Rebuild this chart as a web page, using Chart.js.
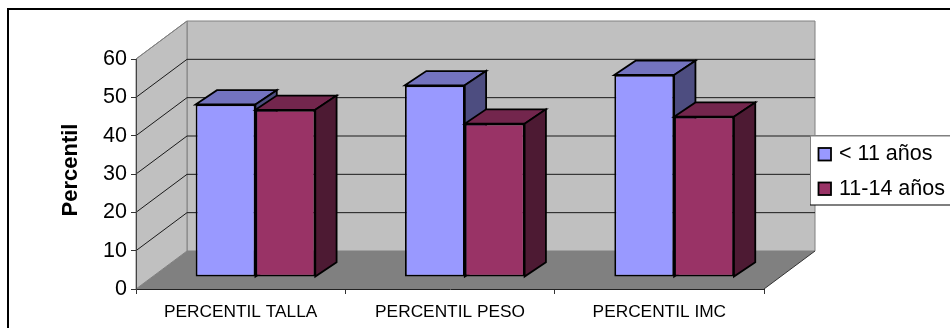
<!DOCTYPE html>
<html lang="es">
<head>
<meta charset="utf-8">
<title>Percentil</title>
<script src="https://cdn.jsdelivr.net/npm/chart.js@4"></script>
<style>
    html, body { margin: 0; padding: 0; background: #fff; }
    canvas { display: block; }
</style>
</head>
<body>
<canvas id="percentilChart" width="950" height="328"></canvas>
<script>
const categories = ["PERCENTIL TALLA", "PERCENTIL PESO", "PERCENTIL IMC"];
const seriesNames = ["< 11 años", "11-14 años"];
const menores11 = [45, 50, 52.7];
const de11a14 = [43.6, 40, 41.8];
const yTicks = [0, 10, 20, 30, 40, 50, 60];

const FONT = "'Liberation Sans', Arial, sans-serif";

// Excel style colours: front, top and side face of each series
const faces = [
    { front: "#9999FF", top: "#7373BF", side: "#4D4D80" },
    { front: "#993366", top: "#73264D", side: "#4D1A33" },
];

const WALL_DX = 51, WALL_DY = -38;   // depth of the box
const BAR_DX = 14.8, BAR_DY = -12; // where the bars stand on the floor
const DEPTH_DX = 21.3, DEPTH_DY = -14.3; // depth of a bar
const BAR_LINE = 1.8;

function poly(ctx, pts, fill, stroke, lw) {
    ctx.beginPath();
    pts.forEach(([x, y], i) => (i ? ctx.lineTo(x, y) : ctx.moveTo(x, y)));
    ctx.closePath();
    if (fill) {
        ctx.fillStyle = fill;
        ctx.fill();
    }
    if (stroke) {
        ctx.strokeStyle = stroke;
        ctx.lineWidth = lw || 1;
        ctx.stroke();
    }
}

// Back wall, side wall, floor and the gridlines that run across them
const boxPlugin = {
    id: "box3d",
    beforeDraw(chart) {
        const ctx = chart.ctx;
        const { left, right, top, bottom } = chart.chartArea;
        const y = chart.scales.y;

        ctx.save();
        poly(ctx, [[left + WALL_DX, top + WALL_DY], [right + WALL_DX, top + WALL_DY],
            [right + WALL_DX, bottom + WALL_DY], [left + WALL_DX, bottom + WALL_DY]], "#C0C0C0", "#808080");
        poly(ctx, [[left, top], [left + WALL_DX, top + WALL_DY],
            [left + WALL_DX, bottom + WALL_DY], [left, bottom]], "#C0C0C0", "#808080");
        poly(ctx, [[left, bottom], [right, bottom],
            [right + WALL_DX, bottom + WALL_DY], [left + WALL_DX, bottom + WALL_DY]], "#808080");

        ctx.strokeStyle = "#1A1A1A";
        ctx.lineWidth = 1;
        yTicks.slice(1, -1).forEach((v) => {
            const py = y.getPixelForValue(v);
            ctx.beginPath();
            ctx.moveTo(left, py);
            ctx.lineTo(left + WALL_DX, py + WALL_DY);
            ctx.lineTo(right + WALL_DX, py + WALL_DY);
            ctx.stroke();
        });
        const y60 = y.getPixelForValue(60);
        ctx.strokeStyle = "#808080";
        ctx.beginPath();
        ctx.moveTo(left, y60);
        ctx.lineTo(left + WALL_DX, y60 + WALL_DY);
        ctx.stroke();
        // dark edge on the right of the floor
        ctx.strokeStyle = "#333";
        ctx.beginPath();
        ctx.moveTo(right, bottom);
        ctx.lineTo(right + WALL_DX, bottom + WALL_DY);
        ctx.stroke();
        ctx.restore();
    },
    // the library would paint the last series first; the boxes need left to right
    beforeDatasetDraw() {
        return false;
    },
    afterDatasetsDraw(chart) {
        const ctx = chart.ctx;
        ctx.save();
        ctx.translate(BAR_DX, BAR_DY);
        chart.data.datasets.forEach((ds, i) => {
            const col = faces[i];
            const meta = chart.getDatasetMeta(i);
            meta.data.forEach((bar) => {
                const { x, y, base, width } = bar.getProps(["x", "y", "base", "width"], true);
                const l = x - width / 2, r = x + width / 2;
                poly(ctx, [[l, y], [l + DEPTH_DX, y + DEPTH_DY], [r + DEPTH_DX, y + DEPTH_DY], [r, y]], col.top, "#000", BAR_LINE);
                poly(ctx, [[r, y], [r + DEPTH_DX, y + DEPTH_DY], [r + DEPTH_DX, base + DEPTH_DY], [r, base]], col.side, "#000", BAR_LINE);
            });
            meta.controller.draw();
        });
        ctx.restore();
    },
    afterDraw(chart) {
        const ctx = chart.ctx;
        ctx.save();

        // outer frame
        ctx.fillStyle = "#000";
        ctx.fillRect(7, 8, 943, 2);
        ctx.fillRect(7, 8, 2, 320);

        // axis title
        ctx.save();
        ctx.translate(70.5, 170);
        ctx.rotate(-Math.PI / 2);
        ctx.font = "bold 22px " + FONT;
        ctx.textAlign = "center";
        ctx.textBaseline = "middle";
        ctx.fillStyle = "#000";
        ctx.fillText("Percentil", 0, 0);
        ctx.restore();

        // legend
        ctx.fillStyle = "#fff";
        ctx.fillRect(810, 136, 140, 69);
        ctx.fillStyle = "#808080";
        ctx.fillRect(810, 135, 140, 1.5);
        ctx.fillRect(810, 135, 1, 70);
        ctx.fillStyle = "#000";
        ctx.fillRect(810, 204.5, 140, 1);

        ctx.font = "21.5px " + FONT;
        ctx.textAlign = "left";
        ctx.textBaseline = "alphabetic";
        seriesNames.forEach((name, i) => {
            const top = i ? 182.5 : 148;
            ctx.fillStyle = faces[i].front;
            ctx.fillRect(818.5, top, 12.5, 12.5);
            ctx.strokeStyle = "#000";
            ctx.lineWidth = BAR_LINE;
            ctx.strokeRect(818.5, top, 12.5, 12.5);
            ctx.fillStyle = "#000";
            ctx.fillText(name, 839, i ? 195 : 160);
        });
        ctx.restore();
    },
};

new Chart(document.getElementById("percentilChart"), {
    type: "bar",
    plugins: [boxPlugin],
    data: {
        labels: categories,
        datasets: [
            { label: seriesNames[0], data: menores11, backgroundColor: faces[0].front },
            { label: seriesNames[1], data: de11a14, backgroundColor: faces[1].front },
        ],
    },
    options: {
        responsive: false,
        animation: false,
        layout: { padding: { left: 0, top: 59, right: 186, bottom: 0 } },
        categoryPercentage: 0.5715,
        barPercentage: 1,
        datasets: {
            bar: { borderColor: "#000", borderWidth: BAR_LINE, borderSkipped: false },
        },
        plugins: {
            legend: { display: false },
            tooltip: { enabled: false },
        },
        scales: {
            x: {
                afterFit(scale) { scale.height = 39; },
                grid: { drawOnChartArea: false, color: "#333", tickLength: 5 },
                border: { color: "#222" },
                ticks: {
                    autoSkip: false,
                    maxRotation: 0,
                    padding: 8,
                    color: "#000",
                    font: { family: FONT, size: 17.3 },
                },
            },
            y: {
                min: 0,
                max: 60,
                afterFit(scale) { scale.width = 136; },
                afterBuildTicks(scale) { scale.ticks = yTicks.map((v) => ({ value: v })); },
                grid: { drawOnChartArea: false, color: "#333", tickLength: 5 },
                border: { color: "#444" },
                ticks: {
                    padding: 4,
                    color: "#000",
                    font: { family: FONT, size: 21.5 },
                },
            },
        },
    },
});
</script>
</body>
</html>
